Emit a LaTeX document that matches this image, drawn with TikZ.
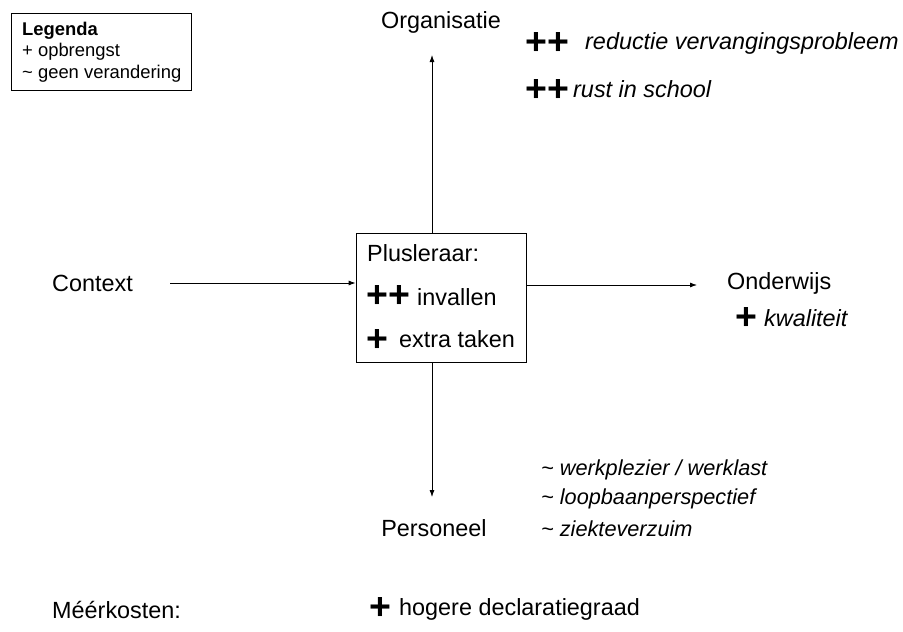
\documentclass[tikz,border=0pt]{standalone}
\usepackage{fontspec}
\setmainfont{Liberation Sans}
\usetikzlibrary{arrows.meta}
\begin{document}
\begin{tikzpicture}[x=1pt,y=-1pt,
  lbl/.style={inner sep=0pt,anchor=west,font=\fontsize{23.4}{27}\selectfont},
  ilbl/.style={inner sep=0pt,anchor=west,font=\fontsize{23.4}{27}\selectfont\itshape},
  slbl/.style={inner sep=0pt,anchor=west,font=\fontsize{21.7}{25}\selectfont\itshape},
  leg/.style={inner sep=0pt,anchor=west,font=\fontsize{18.4}{20}\selectfont},
  pls/.style={inner sep=0pt,anchor=west,font=\fontsize{37.5}{40}\selectfont\bfseries},
  arr/.style={-{Latex[length=7pt,width=5pt]},line width=0.8pt},
  boxstyle/.style={draw,line width=0.8pt,inner sep=0pt}]
\useasboundingbox (0,0) rectangle (903,632);
% legend
\node[boxstyle,minimum width=180,minimum height=77,anchor=north west] (legend) at (11,13) {};
\node[leg,font=\fontsize{18.4}{20}\selectfont\bfseries] (legt) at (22,31) {Legenda};
\node[leg] (leg1) at (22,52) {+ opbrengst};
\node[leg] (leg2) at (22,74) {\char"007E{} geen verandering};
% central box
\node[boxstyle,minimum width=170,minimum height=129] (plus) at (441,297.5) {};
\node[lbl] (pt) at (367,253) {Plusleraar:};
\node[pls] (pp1) at (366,296.5) {++};
\node[lbl] (pt1) at (417,297) {invallen};
\node[pls] (pp2) at (366,341) {+};
\node[lbl] (pt2) at (399,339) {extra taken};
% organisatie
\node[lbl,anchor=center] (org) at (441,22) {Organisatie};
\coordinate (orgend) at (432,55);
\draw[arr] (plus.north -| orgend) -- (orgend);
\node[pls] (op1) at (525,43.5) {++};
\node[ilbl] (ot1) at (585,43) {reductie vervangingsprobleem};
\node[pls] (op2) at (525,90.5) {++};
\node[ilbl] (ot2) at (573,89) {rust in school};
% context
\node[lbl] (ctx) at (52,283) {Context};
\coordinate (ctxstart) at (170,283);
\draw[arr] (ctxstart) -- (ctxstart -| plus.west);
% onderwijs
\coordinate (ondend) at (697,285);
\draw[arr] (ondend -| plus.east) -- (ondend);
\node[lbl] (ond) at (727,283) {Onderwijs};
\node[pls] (kp) at (735,318.5) {+};
\node[ilbl] (kt) at (764,318) {kwaliteit};
% personeel
\coordinate (perend) at (432,497);
\draw[arr] (plus.south -| perend) -- (perend);
\node[lbl,anchor=center] (per) at (434,528) {Personeel};
\node[slbl] (p1) at (541,470) {\char"007E{} werkplezier / werklast};
\node[slbl] (p2) at (541,499) {\char"007E{} loopbaanperspectief};
\node[slbl] (p3) at (541,529) {\char"007E{} ziekteverzuim};
% meerkosten
\node[lbl] (mk) at (52,610) {Méérkosten:};
\node[pls] (mp) at (369,608.5) {+};
\node[lbl] (mt) at (399,609) {hogere declaratiegraad};
\end{tikzpicture}
\end{document}
